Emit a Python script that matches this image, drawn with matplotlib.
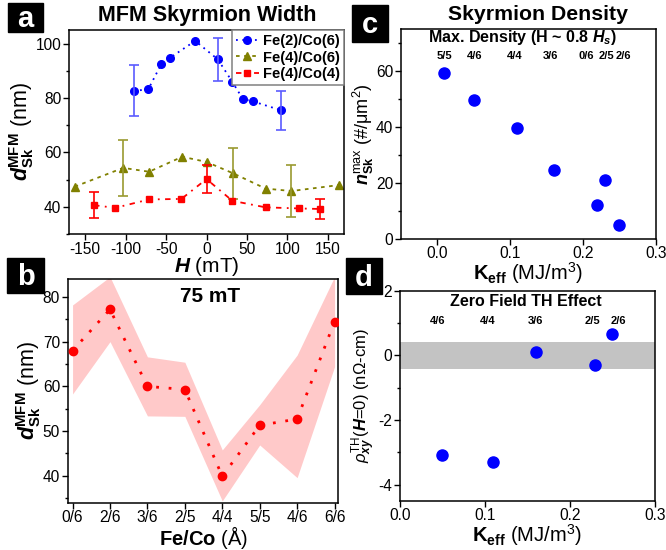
import matplotlib
matplotlib.use("Agg")
import matplotlib.pyplot as plt
import numpy as np

plt.rcParams['font.family'] = ['Liberation Sans', 'DejaVu Sans']
plt.rcParams['mathtext.fontset'] = 'custom'
plt.rcParams['mathtext.rm'] = 'Liberation Sans'
plt.rcParams['mathtext.it'] = 'Liberation Sans:italic'
plt.rcParams['mathtext.bf'] = 'Liberation Sans:bold'
plt.rcParams['mathtext.bfit'] = 'Liberation Sans:bold:italic'
plt.rcParams['mathtext.sf'] = 'Liberation Sans'
plt.rcParams['axes.unicode_minus'] = False

# ---- Panel a data ----
h_fe2co6 = [-90, -72, -56, -45, -14, 14, 32, 45, 57, 92]
d_fe2co6 = [82.6, 83.2, 92.4, 94.8, 101.0, 94.2, 85.9, 79.6, 78.8, 75.5]
err_fe2co6 = [9.4, 0, 0, 0, 0, 7.8, 0, 0, 0, 7.1]

h_fe4co6 = [-163, -103, -71, -30, 0, 33, 73, 105, 164]
d_fe4co6 = [47.4, 54.3, 52.9, 58.4, 56.5, 52.3, 46.7, 45.8, 48.0]
err_fe4co6 = [0, 10.2, 0, 0, 0, 9.3, 0, 9.4, 0]

h_fe4co4 = [-139, -113, -71, -31, 0, 32, 73, 114, 140]
d_fe4co4 = [40.6, 39.6, 42.7, 42.9, 50.2, 42.2, 39.8, 39.4, 39.2]
err_fe4co4 = [4.8, 0, 0, 0, 5.2, 0, 0, 0, 3.8]

# ---- Panel b data ----
b_labels = ['0/6', '2/6', '3/6', '2/5', '4/4', '5/5', '4/6', '6/6']
b_vals = [68.0, 77.2, 60.0, 59.3, 39.9, 51.3, 52.7, 74.5]
b_upper = [78.2, 84.5, 66.6, 65.4, 45.8, 55.9, 67.0, 84.5]
b_lower = [58.3, 70.0, 53.4, 53.3, 34.4, 46.9, 39.6, 64.4]

# ---- Panel c data ----
c_k = [0.01, 0.05, 0.11, 0.16, 0.22, 0.23, 0.25]
c_n = [59.5, 49.5, 39.5, 24.5, 12.0, 21.0, 5.0]
c_lab = ['5/5', '4/6', '4/4', '3/6', '0/6', '2/5', '2/6']
c_lab_x = [0.010, 0.052, 0.107, 0.155, 0.204, 0.233, 0.256]

# ---- Panel d data ----
d_k = [0.05, 0.11, 0.16, 0.23, 0.25]
d_rho = [-3.1, -3.3, 0.1, -0.3, 0.65]
d_lab = ['4/6', '4/4', '3/6', '2/5', '2/6']
d_lab_x = [0.045, 0.104, 0.160, 0.227, 0.257]
band_lo, band_hi = -0.42, 0.42

fig = plt.figure(figsize=(6.66, 5.5), dpi=100)
TICK = 11.2

def style(ax):
    ax.tick_params(which='major', direction='out', length=4, width=1, labelsize=TICK, pad=1.5)
    ax.tick_params(which='minor', direction='out', length=2.5, width=1)
    for s in ax.spines.values():
        s.set_linewidth(1.1)

def panel_label(x0, y0, w, h, letter):
    fig.patches.append(plt.Rectangle((x0/666, 1 - (y0+h)/550), w/666, h/550,
                                     transform=fig.transFigure, color='black', zorder=10))
    fig.text((x0 + w/2)/666, 1 - (y0 + h/2)/550 - 0.003, letter, color='white', fontsize=21,
             fontweight='bold', ha='center', va='center', zorder=11)

# ---- Panel a ----
axa = fig.add_axes([69/666, 1-234/550, (344-69)/666, (234-30)/550])
style(axa)
blue = '#0000ff'; olive = '#808000'; red = '#ff0000'
def errplot(ax, x, y, e, color, ecolor, marker, ls, label, ms):
    x = np.array(x); y = np.array(y); e = np.array(e)
    ax.plot(x, y, linestyle=ls, color=color, marker=marker, ms=ms, lw=1.3, label=label)
    m = e > 0
    ax.errorbar(x[m], y[m], yerr=e[m], fmt='none', ecolor=ecolor, elinewidth=1.2,
                capsize=3.5, capthick=1.2)
errplot(axa, h_fe2co6, d_fe2co6, err_fe2co6, blue, '#5b5bff', 'o', (0, (1, 2.5)), 'Fe(2)/Co(6)', 5.5)
errplot(axa, h_fe4co6, d_fe4co6, err_fe4co6, olive, '#9a9a30', '^', (0, (2, 2.5)), 'Fe(4)/Co(6)', 5.5)
errplot(axa, h_fe4co4, d_fe4co4, err_fe4co4, red, red, 's', (0, (3, 3, 1, 3)), 'Fe(4)/Co(4)', 5)
axa.set_xlim(-170, 170)
axa.set_ylim(30, 105)
axa.set_xticks([-150, -100, -50, 0, 50, 100, 150])
axa.set_yticks([40, 60, 80, 100])
axa.set_yticks([30, 50, 70, 90], minor=True)
leg = axa.legend(loc='upper right', borderaxespad=0, fancybox=False, edgecolor='#808080',
                 prop={'weight': 'bold', 'size': 10.5}, handlelength=1.6, labelspacing=0.2,
                 borderpad=0.25, handletextpad=0.3, framealpha=1)
leg.get_frame().set_linewidth(1.1)
axa.set_xlabel(r'$\mathbfit{H}$ (mT)', fontsize=15, labelpad=-1)
axa.set_ylabel(r'$\mathbfit{d}^{\mathbf{MFM}}_{\mathbf{Sk}}$ (nm)', fontsize=15.5, labelpad=0)
fig.text(207/666, 1-16/550, 'MFM Skyrmion Width', fontsize=15.5, fontweight='bold',
         ha='center', va='center')

# ---- Panel b ----
axb = fig.add_axes([67.7/666, 1-502.7/550, (338.3-67.7)/666, (502.7-279)/550])
style(axb)
xb = np.arange(len(b_labels))
axb.fill_between(xb, b_lower, b_upper, color='#ffc9c9', lw=0, zorder=1)
axb.plot(xb, b_vals, linestyle=(0, (1, 3.5)), lw=2, color=red, marker='o', ms=6, zorder=3)
axb.set_xticks(xb)
axb.set_xticklabels(b_labels)
axb.set_xlim(-0.13, 7.1)
axb.set_ylim(34, 84)
axb.set_yticks([40, 50, 60, 70, 80])
axb.set_yticks([35, 45, 55, 65, 75], minor=True)
axb.set_xlabel(r'$\mathbf{Fe/Co}$ (Å)', fontsize=14.5, labelpad=-1)
axb.set_ylabel(r'$\mathbfit{d}^{\mathbf{MFM}}_{\mathbf{Sk}}$ (nm)', fontsize=15.5, labelpad=0)
axb.text(3.67, 80, '75 mT', fontsize=15, fontweight='bold', ha='center', va='center')

# ---- Panel c ----
axc = fig.add_axes([400.7/666, 1-238.7/550, (655.7-400.7)/666, (238.7-29.3)/550])
style(axc)
axc.plot(c_k, c_n, 'o', color=blue, ms=8, zorder=3)
axc.set_xlim(-0.05, 0.3)
axc.set_ylim(0, 75)
axc.set_xticks([0.0, 0.1, 0.2, 0.3])
axc.set_xticklabels(['0.0', '0.1', '0.2', '0.3'])
axc.set_yticks([0, 20, 40, 60])
axc.set_yticks([10, 30, 50, 70], minor=True)
for lx, lb in zip(c_lab_x, c_lab):
    axc.text(lx, 65.6, lb, fontsize=8, fontweight='bold', ha='center', va='center')
axc.text(0.1175, 72.2, r'Max. Density (H ~ 0.8 $\mathbfit{H}_{\mathbfit{s}}$)', fontsize=11.5,
         fontweight='bold', ha='center', va='center')
axc.set_xlabel(r'$\mathbf{K}_{\mathbf{eff}}$ (MJ/m$^3$)', fontsize=14.5, labelpad=-1)
axc.set_ylabel(r'$\mathbfit{n}^{\mathrm{max}}_{\mathbf{Sk}}$ (#/$\mathrm{\mu}$m$^2$)', fontsize=13, labelpad=0)
fig.text(538/666, 1-15/550, 'Skyrmion Density', fontsize=15.3, fontweight='bold',
         ha='center', va='center')

# ---- Panel d ----
axd = fig.add_axes([399.7/666, 1-500.7/550, (654.7-399.7)/666, (500.7-290.7)/550])
style(axd)
axd.axhspan(band_lo, band_hi, color='#c3c3c3', lw=0, zorder=1)
axd.plot(d_k, d_rho, 'o', color=blue, ms=8, zorder=3)
axd.set_xlim(0, 0.3)
axd.set_ylim(-4.5, 2)
axd.set_xticks([0.0, 0.1, 0.2, 0.3])
axd.set_xticklabels(['0.0', '0.1', '0.2', '0.3'])
axd.set_yticks([-4, -2, 0, 2])
axd.set_yticks([-3, -1, 1], minor=True)
for lx, lb in zip(d_lab_x, d_lab):
    axd.text(lx, 1.07, lb, fontsize=8, fontweight='bold', ha='center', va='center')
axd.text(0.148, 1.68, 'Zero Field TH Effect', fontsize=11.5, fontweight='bold',
         ha='center', va='center')
axd.set_xlabel(r'$\mathbf{K}_{\mathbf{eff}}$ (MJ/m$^3$)', fontsize=14.5, labelpad=-1)
axd.set_ylabel(r'$\mathit{\rho}^{\mathrm{TH}}_{\mathbfit{xy}}$($\mathbfit{H}$=0) (n$\Omega$-cm)',
               fontsize=12, labelpad=0)

panel_label(8, 3, 35, 29, 'a')
panel_label(7, 258, 37, 35, 'b')
panel_label(352, 5, 36, 37, 'c')
panel_label(346, 258, 36, 36, 'd')

fig.savefig('out.png', dpi=100)
